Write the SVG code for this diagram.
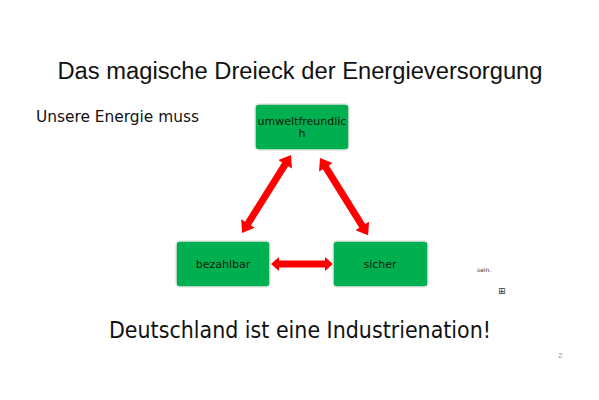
<svg xmlns="http://www.w3.org/2000/svg" width="599" height="400" viewBox="0 0 599 400">
<style>
.box{fill:#00b050;stroke:#e6e6e6;stroke-width:1.5}
.nt{font-family:"DejaVu Sans",Verdana,sans-serif;font-size:11px;fill:#0a1a0a;text-anchor:middle}
.arr{fill:#ff0000}
</style>
<rect width="599" height="400" fill="#ffffff"/>
<text x="300" y="79" font-family="Liberation Sans,Arial,sans-serif" font-size="23" fill="#111" text-anchor="middle" textLength="485" lengthAdjust="spacingAndGlyphs">Das magische Dreieck der Energieversorgung</text>
<text x="36" y="122" font-family="DejaVu Sans,Verdana,sans-serif" font-size="16" fill="#111" textLength="163" lengthAdjust="spacingAndGlyphs">Unsere Energie muss</text>
<g id="connectors">
<polygon class="arr" transform="translate(291,155) rotate(122.1)" points="0,0 11,-8 11,-3.5 81,-3.5 81,-8 92,0 81,8 81,3.5 11,3.5 11,8"/>
<polygon class="arr" transform="translate(320,158) rotate(58.1)" points="0,0 11,-8 11,-3.5 80,-3.5 80,-8 91,0 80,8 80,3.5 11,3.5 11,8"/>
<polygon class="arr" transform="translate(271,264)" points="0,0 8,-7 8,-3.5 54,-3.5 54,-7 62,0 54,7 54,3.5 8,3.5 8,7"/>
</g>
<g id="node-umweltfreundlich">
<rect class="box" x="255" y="104" width="94" height="46" rx="4"/>
<text class="nt" x="302" y="125">umweltfreundlic</text>
<text class="nt" x="302" y="137">h</text>
</g>
<g id="node-bezahlbar">
<rect class="box" x="176" y="241" width="94" height="46" rx="4"/>
<text class="nt" x="223" y="268">bezahlbar</text>
</g>
<g id="node-sicher">
<rect class="box" x="333" y="241" width="95" height="46" rx="4"/>
<text class="nt" x="380" y="268">sicher</text>
</g>
<text x="477" y="272" font-family="DejaVu Sans,sans-serif" font-size="6" fill="#333">sein.</text>
<text x="498" y="294" font-family="DejaVu Sans,sans-serif" font-size="9" fill="#333">⊞</text>
<text x="300" y="338" font-family="DejaVu Sans,Verdana,sans-serif" font-size="23" fill="#111" text-anchor="middle" textLength="382" lengthAdjust="spacingAndGlyphs">Deutschland ist eine Industrienation!</text>
<text x="558" y="358" font-family="Liberation Sans,sans-serif" font-size="8" fill="#999">2</text>
</svg>
